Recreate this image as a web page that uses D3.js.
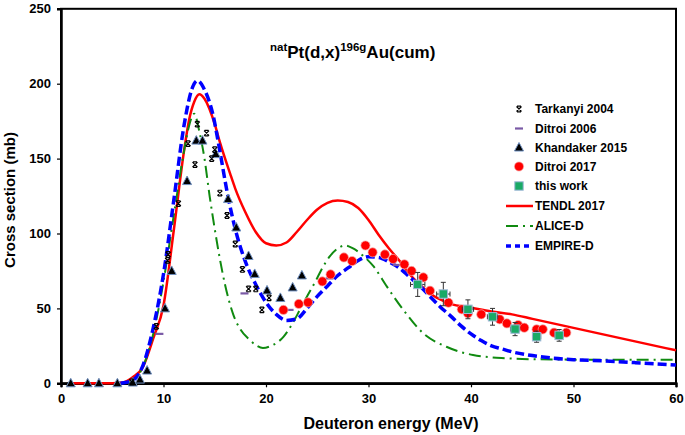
<!DOCTYPE html>
<html><head><meta charset="utf-8">
<script src="https://cdn.jsdelivr.net/npm/d3@7"></script>
<style>
body{margin:0;background:#fff;}
text{font-family:"Liberation Sans",Arial,sans-serif;font-weight:bold;fill:#000;}
</style></head>
<body><svg id="c" width="685" height="435"></svg>
<script>
const xTicks=[0,10,20,30,40,50,60];
const yTicks=[0,50,100,150,200,250];
const seriesNames=["Tarkanyi 2004","Ditroi 2006","Khandaker 2015","Ditroi 2017","this work","TENDL 2017","ALICE-D","EMPIRE-D"];

const tendl=[[1,0],[5,0],[6,0.5],[7,4],[8,11],[9,30],[10,52],[11,102],[12,155],[12.5,176],[13,188],[13.5,193],[14,190],[15,173],[15.5,161],[16.5,140],[17,130],[18,114],[19,101],[20,93.5],[21,92],[22,94],[23,101],[24,109],[25,116],[26,120.5],[27,122],[28,121],[29,117],[30,109],[31,99],[32,90],[33,82],[34,73],[35,66],[36,60],[37,56],[38,53],[40,50.5],[42,48],[44,46],[46,43],[48,40],[50,37],[52,34],[54,31],[56,28],[58,25],[60,22]];
const alice=[[6.5,0],[7,2],[8,11],[9,33],[10,68],[11,112],[12,155],[12.5,172],[13,180],[13.5,168],[14,150],[14.5,125],[15,103],[15.5,83],[16,66],[16.8,46],[17.5,36],[18.4,29],[19,25.5],[19.7,23.5],[20.5,25],[21.7,31],[22.5,39],[23.3,49],[24,58],[24.9,69],[25.5,77],[26.2,84.5],[27,90],[27.7,92],[28.5,90],[29.5,85],[30.5,78],[31.8,64.5],[33.4,49],[35.4,33],[37.6,24.4],[40.2,18.9],[43.5,16.7],[46.7,16],[50,15.8],[60,15.8]];
const empire=[[5.8,0],[7,2],[8,12],[9,37],[10,73],[11,122],[12,172],[12.75,196],[13.3,202],[14,196],[14.8,180],[15.5,155],[16.2,128],[17,103],[18,81],[19,66],[20,54],[21,46],[22,42],[23,43],[24,50],[25,58],[26,65],[27,72],[28,77],[29,82],[30,84.5],[31,84],[32,81],[33,77],[34,71],[35,65],[36,58],[37,51],[38,45],[39,38.5],[40,33],[41,28.5],[42,25],[43,23],[44,21],[46,18.5],[48,16.8],[50,15.8],[53,14.9],[56,13.8],[60,12.2]];

const tarkanyi=[[6.9,1],[9.3,38],[10.4,82],[10.45,86],[11.45,120],[12.4,160],[13.07,146],[13.3,173],[14.2,167],[14.7,150],[15.0,156],[15.5,127],[16.2,112],[17.0,93],[17.7,76],[18.3,63],[19.0,63],[19.6,49],[20.3,57]];
const ditroi2006=[[9.6,33],[17.9,60],[22.3,49],[26.2,70],[32.75,79],[39.3,49]];
const khandaker=[[0.95,0],[2.6,0],[3.7,0],[5.5,0],[7.0,0.5],[7.7,2.5],[8.4,8.5],[10.15,50],[10.8,75],[12.3,135],[13.2,162],[13.8,162],[15.1,153],[16.3,123],[17.1,104],[18.3,85],[18.9,73],[20.1,62],[21.4,57],[22.6,64],[23.5,72]];
const ditroi2017=[[21.7,49],[23.2,53],[24.1,54],[25.5,68],[26.3,72.7],[27.6,84],[28.4,81.6],[29.7,92],[30.4,87.4],[31.6,86],[32.4,83],[33.5,79.4],[34.2,75],[35.35,70.7],[36.0,61.8],[37.8,53.8],[39.1,49.4],[39.7,46.7],[41.0,46],[42.8,42.7],[43.5,40],[44.6,38.9],[45.2,37.1],[46.4,36],[47.0,36],[48.1,33.8],[49.3,33.8]];
const thisWorkE=[34.8,37.3,39.7,42.1,44.3,46.4,48.6];
const thisWorkS=[66,59.6,49.4,44.4,36.2,31.1,32];
const thisWorkDE=[0.7,0.65,0.55,0.5,0.45,0.4,0.4];
const thisWorkDS=[8,7.8,6.3,5.6,4.4,3.7,3.9];

const svg=d3.select("#c");
const x=d3.scaleLinear().domain([0,60]).range([61,676]);
const y=d3.scaleLinear().domain([0,250]).range([383.3,8.8]);

// frame
svg.append("rect").attr("x",61).attr("y",y(250)).attr("width",615).attr("height",y(0)-y(250))
  .attr("fill","none").attr("stroke","#000").attr("stroke-width",2);

const xa=svg.append("g").attr("transform","translate(0,"+y(0)+")")
  .call(d3.axisBottom(x).tickValues(xTicks).tickSize(4).tickPadding(6).tickFormat(d3.format("d")));
const ya=svg.append("g").attr("transform","translate(61,0)")
  .call(d3.axisLeft(y).tickValues(yTicks).tickSize(4).tickPadding(6).tickFormat(d3.format("d")));
[xa,ya].forEach(a=>{a.select(".domain").attr("stroke-width",2.5);
  a.selectAll(".tick line").attr("stroke-width",1.2);
  a.selectAll("text").style("font-size","13px").style("font-weight","bold").attr("fill","#000")
   .style("font-family","'Liberation Sans',Arial,sans-serif");});

const line=d3.line().x(d=>x(d[0])).y(d=>y(d[1])).curve(d3.curveMonotoneX);
svg.append("path").datum(tendl).attr("d",line).attr("fill","none").attr("stroke","#ff0000").attr("stroke-width",2.5);
svg.append("path").datum(alice).attr("d",line).attr("fill","none").attr("stroke","#108a10").attr("stroke-width",2).attr("stroke-dasharray","12,5,2,5");
svg.append("path").datum(empire).attr("d",line).attr("fill","none").attr("stroke","#0000ff").attr("stroke-width",3.5).attr("stroke-dasharray","9,4");

// markers
const sym={
  x:(g)=>g.append("path").attr("d","M-2.5,-2.5L2.5,2.5M-2.5,2.5L2.5,-2.5M-2,-2.8H2M-2,2.8H2").attr("stroke","#000").attr("stroke-width",1.2).attr("fill","none"),
  dash:(g)=>g.append("line").attr("x1",-4).attr("x2",4).attr("stroke","#7a5aa6").attr("stroke-width",2.2),
  tri:(g)=>g.append("path").attr("d","M0,-5L4.5,3.5L-4.5,3.5Z").attr("fill","#000").attr("stroke","#6f8fbf").attr("stroke-width",1),
  circ:(g)=>g.append("circle").attr("r",4.6).attr("fill","#ff0000").attr("stroke","#f7b0b0").attr("stroke-width",0.7),
  sq:(g)=>g.append("rect").attr("x",-4.2).attr("y",-4.2).attr("width",8.4).attr("height",8.4).attr("fill","#1aaa66").attr("stroke","#9fb7d8").attr("stroke-width",1)
};
function drawPts(data,kind){
  data.forEach(d=>{const g=svg.append("g").attr("transform","translate("+x(d[0])+","+y(d[1])+")");sym[kind](g);});
}
drawPts(ditroi2006,"dash");
drawPts(khandaker,"tri");
drawPts(tarkanyi,"x");
drawPts(ditroi2017,"circ");
// this work with error bars
thisWorkE.forEach((e,i)=>{
  const s=thisWorkS[i],de=thisWorkDE[i],ds=thisWorkDS[i];
  const eb=svg.append("g").attr("stroke","#333").attr("stroke-width",1);
  eb.append("line").attr("x1",x(e)).attr("x2",x(e)).attr("y1",y(s-ds)).attr("y2",y(s+ds));
  eb.append("line").attr("x1",x(e)-2.5).attr("x2",x(e)+2.5).attr("y1",y(s-ds)).attr("y2",y(s-ds));
  eb.append("line").attr("x1",x(e)-2.5).attr("x2",x(e)+2.5).attr("y1",y(s+ds)).attr("y2",y(s+ds));
  eb.append("line").attr("x1",x(e-de)).attr("x2",x(e+de)).attr("y1",y(s)).attr("y2",y(s));
  eb.append("line").attr("x1",x(e-de)).attr("x2",x(e-de)).attr("y1",y(s)-2.5).attr("y2",y(s)+2.5);
  eb.append("line").attr("x1",x(e+de)).attr("x2",x(e+de)).attr("y1",y(s)-2.5).attr("y2",y(s)+2.5);
  const g=svg.append("g").attr("transform","translate("+x(e)+","+y(s)+")");sym.sq(g);
});

// legend
const ly=[109,128.5,147.5,166.5,186,206,226,246];
const kinds=["x","dash","tri","circ","sq"];
seriesNames.forEach((n,i)=>{
  if(i<5){const g=svg.append("g").attr("transform","translate(519,"+ly[i]+")");sym[kinds[i]](g);}
  svg.append("text").attr("x",535).attr("y",ly[i]).attr("dy","0.35em").style("font-size","12px").text(n);
});
svg.append("line").attr("x1",506).attr("x2",533).attr("y1",ly[5]).attr("y2",ly[5]).attr("stroke","#ff0000").attr("stroke-width",2.5);
svg.append("line").attr("x1",506).attr("x2",533).attr("y1",ly[6]).attr("y2",ly[6]).attr("stroke","#108a10").attr("stroke-width",2).attr("stroke-dasharray","12,5,2,5");
svg.append("line").attr("x1",506).attr("x2",533).attr("y1",ly[7]).attr("y2",ly[7]).attr("stroke","#0000ff").attr("stroke-width",3.5).attr("stroke-dasharray","5,4");

// title
const t=svg.append("text").attr("x",270).attr("y",58).style("font-size","17px");
t.append("tspan").text("nat").style("font-size","11.5px").attr("dy",-7);
t.append("tspan").text("Pt(d,x)").attr("dy",7);
t.append("tspan").text("196g").style("font-size","11.5px").attr("dy",-7);
t.append("tspan").text("Au(cum)").attr("dy",7);

// axis titles
svg.append("text").attr("x",391).attr("y",429).attr("text-anchor","middle").style("font-size","16px").text("Deuteron energy (MeV)");
svg.append("text").attr("transform","translate(15,200) rotate(-90)").attr("text-anchor","middle").style("font-size","15px").text("Cross section (mb)");
</script></body></html>
